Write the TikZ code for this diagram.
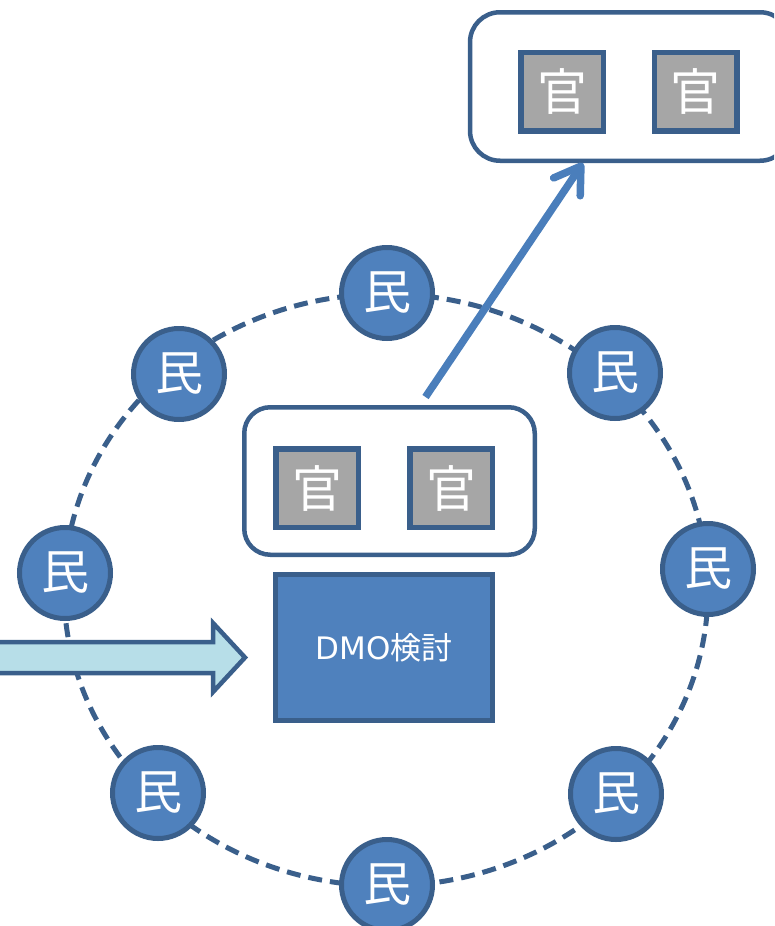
\documentclass[tikz,border=0pt]{standalone}
\usepackage{fontspec}
\setmainfont{Noto Sans CJK JP}
\newfontfamily\latinsans{DejaVu Sans}
\usetikzlibrary{arrows.meta}
\definecolor{edge}{HTML}{3A5F8B}
\definecolor{citizenfill}{HTML}{4F81BD}
\definecolor{officialfill}{HTML}{A6A6A6}
\definecolor{flowfill}{HTML}{B7DEE8}
\definecolor{linkcol}{HTML}{4A7EBB}
\begin{document}
\begin{tikzpicture}[x=1pt,y=-1pt,
  citizen/.style={circle, draw=edge, line width=5pt, fill=citizenfill,
    minimum size=91pt, inner sep=0pt, text=white,
    font=\fontsize{48}{48}\selectfont},
  official/.style={rectangle, draw=edge, line width=5.5pt, fill=officialfill,
    minimum width=82.5pt, minimum height=78.5pt, inner sep=0pt, text=white,
    font=\fontsize{50}{50}\selectfont},
  group/.style={rectangle, rounded corners=26pt, draw=edge, line width=4.5pt,
    fill=white, inner sep=0pt},
  task/.style={rectangle, draw=edge, line width=5pt, fill=citizenfill,
    minimum width=217pt, minimum height=146pt, inner sep=0pt, text=white,
    font=\fontsize{31}{31}\selectfont},
  ring/.style={draw=edge, line width=5pt, dash pattern=on 14pt off 8pt},
  inflow/.style={draw=edge, line width=4.5pt, fill=flowfill, line join=miter},
  link/.style={draw=linkcol, line width=7.5pt,
    -{Straight Barb[length=25pt,width=32pt,round]}},
]
\useasboundingbox (0,0) rectangle (774,926);
\clip (0,0) rectangle (774,926);

% dashed ring of private members
\draw[ring] (386,590) ellipse [x radius=322, y radius=296];

% incoming block arrow
\draw[inflow] (-10,642) -- (213,642) -- (213,623) -- (245,657.5)
  -- (213,692) -- (213,673) -- (-10,673) -- cycle;

% private members
\node[citizen] (c1) at (387,293) {民};
\node[citizen] (c2) at (615,373) {民};
\node[citizen] (c3) at (708,569) {民};
\node[citizen] (c4) at (616,794) {民};
\node[citizen] (c5) at (387,885) {民};
\node[citizen] (c6) at (158,793) {民};
\node[citizen] (c7) at (65,573) {民};
\node[citizen] (c8) at (179,374) {民};

% inner group of officials
\node[group, minimum width=290.5pt, minimum height=147.5pt] (inner) at (389.5,481) {};
\node[official] (o1) at (317,488) {官};
\node[official] (o2) at (451,488) {官};

% DMO study box
\node[task] (dmo) at (384,647.5) {{\latinsans DMO}検討};

% outer group of officials
\node[group, rounded corners=30pt, minimum width=320pt, minimum height=148.5pt] (top) at (630,86.5) {};
\node[official] (t1) at (562,91.5) {官};
\node[official] (t2) at (695.5,91.5) {官};

% officials move out
\draw[link] ([shift={(36,-8)}]inner.north) -- ([xshift=-47pt]top.south);
\end{tikzpicture}
\end{document}
